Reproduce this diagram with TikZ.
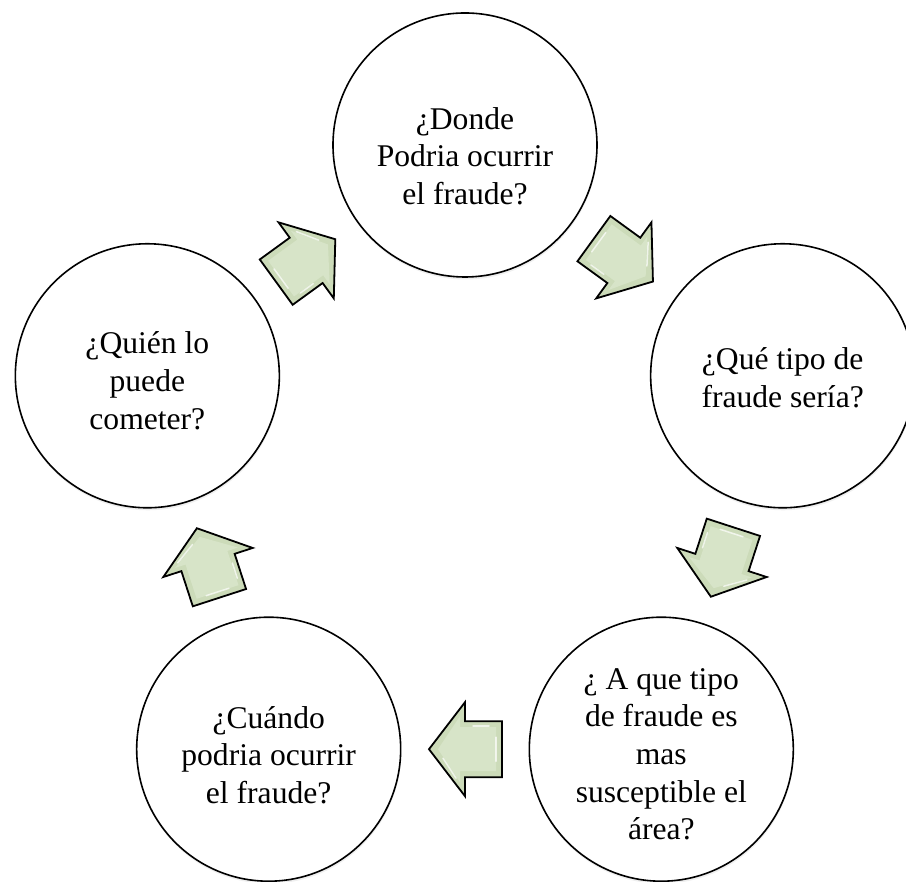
\documentclass[tikz,border=0pt]{standalone}
\usepackage{fontspec}
\setmainfont{Liberation Serif}
\usetikzlibrary{calc,shadows}
\definecolor{arrowfill}{RGB}{204,219,185}
\definecolor{arrowlight}{RGB}{215,228,200}
\tikzset{
  bubble/.style={circle, draw=black, line width=1.6pt, fill=white,
    minimum size=264pt, inner sep=0pt,
    drop shadow={shadow xshift=0.5pt, shadow yshift=-2.5pt, opacity=0.12}},
  bubbletext/.style={align=center, inner sep=0pt,
    font=\fontsize{31.6}{37.7}\selectfont},
  blockarrow/.style={draw=black, line width=1.8pt, line join=miter, fill=arrowfill},
  bevel/.style={fill=arrowlight, draw=none},
  shine/.style={draw=white, line width=1.5pt, opacity=0.7, line cap=round},
  cyclearrow/.pic={
    \draw[blockarrow] (-37,-28) -- (0,-28) -- (0,-47) -- (36,0) -- (0,47) -- (0,28) -- (-37,28) -- cycle;
    \fill[bevel] (-31,-22) -- (5,-22) -- (5,-33) -- (27,0) -- (5,33) -- (5,22) -- (-31,22) -- cycle;
    \draw[shine] (-31,-12) -- (-31,12);
    \draw[shine] (9,29) -- (22,9);
    \draw[shine] (-24,-23) -- (-8,-23);
  }
}
\begin{document}
\begin{tikzpicture}[x=1pt,y=1pt]
\clip (0,0) rectangle (906,882);
\fill[white] (0,0) rectangle (906,882);
\coordinate (c) at (465,403);
\node[bubble] (top)   at ($(c)+(90:334)$)  {};
\node[bubble] (right) at ($(c)+(18:334)$)  {};
\node[bubble] (br)    at ($(c)+(-54:334)$) {};
\node[bubble] (bl)    at ($(c)+(234:334)$) {};
\node[bubble] (left)  at ($(c)+(162:334)$) {};
\node[bubbletext] (toptext)   at ($(top)+(0,-11)$)  {¿Donde\\Podria ocurrir\\el fraude?};
\node[bubbletext] (righttext) at ($(right)+(0,-2)$) {¿Qué tipo de\\fraude sería?};
\node[bubbletext] (brtext)    at ($(br)+(0,-5)$)    {¿ A que tipo\\de fraude es\\mas\\susceptible el\\área?};
\node[bubbletext] (bltext)    at ($(bl)+(0,-6)$)    {¿Cuándo\\podria ocurrir\\el fraude?};
\node[bubbletext] (lefttext)  at ($(left)+(0,-5)$)  {¿Quién lo\\puede\\cometer?};
\coordinate (m1) at ($(top)!0.5!(right)$);
\coordinate (m2) at ($(right)!0.5!(br)$);
\coordinate (m3) at ($(br)!0.5!(bl)$);
\coordinate (m4) at ($(bl)!0.5!(left)$);
\coordinate (m5) at ($(left)!0.5!(top)$);
\pic[rotate=-36]  at (m1) {cyclearrow};
\pic[rotate=-108] at (m2) {cyclearrow};
\pic[rotate=180]  at (m3) {cyclearrow};
\pic[rotate=108]  at (m4) {cyclearrow};
\pic[rotate=36]   at (m5) {cyclearrow};
\end{tikzpicture}
\end{document}
